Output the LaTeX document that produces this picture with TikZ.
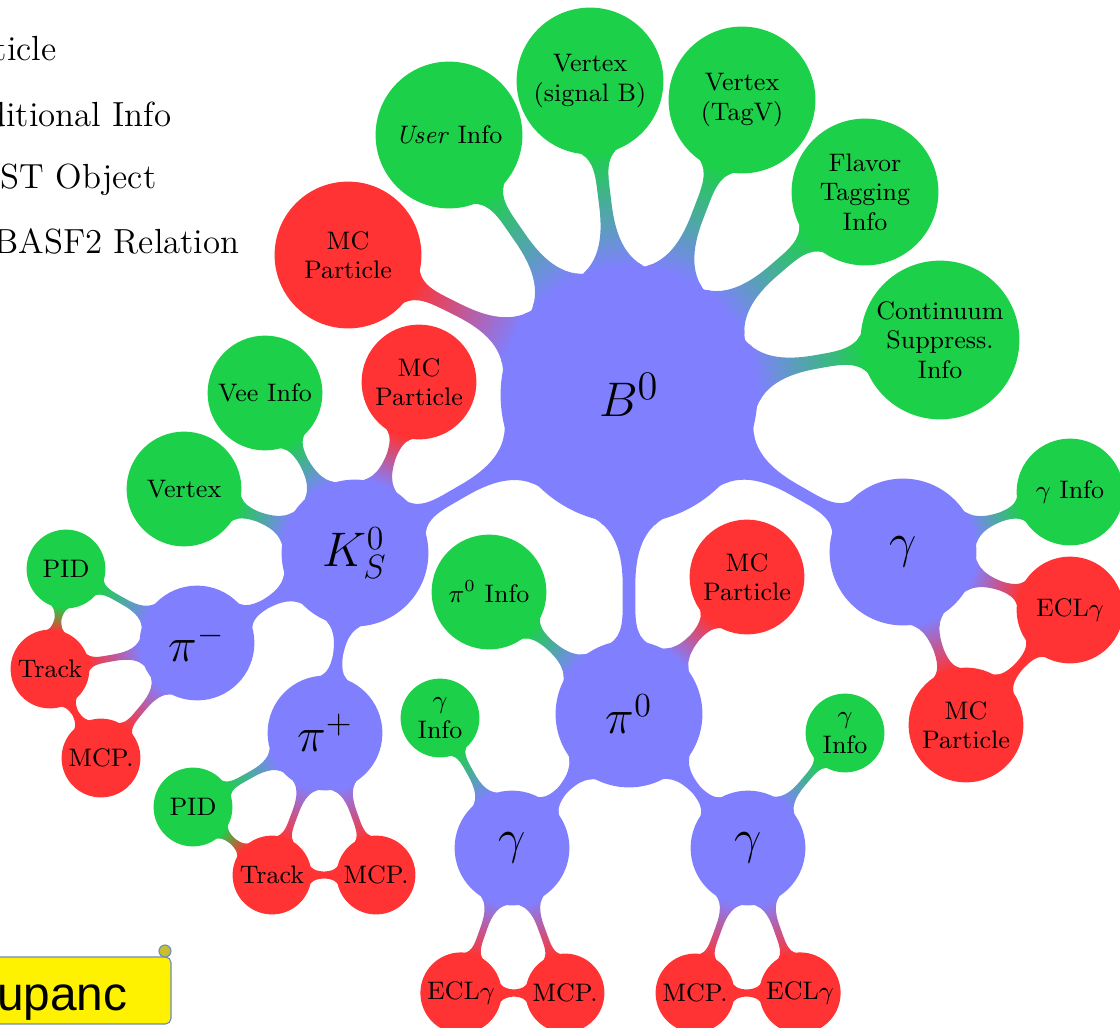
\documentclass[tikz,border=0pt]{standalone}
\usepackage{fontspec}
\newfontfamily\notefont{Liberation Sans}
\usetikzlibrary{mindmap, backgrounds}

\definecolor{partblue}{RGB}{128,128,255}
\definecolor{infogreen}{RGB}{28,208,74}
\definecolor{dstred}{RGB}{255,51,51}
\definecolor{noteedge}{RGB}{110,140,180}

\tikzset{
  legend/.style={anchor=base east, inner sep=0pt, font=\fontsize{12.4}{15}\selectfont},
  bubble/.style={circle, inner sep=1pt, outer sep=0pt, line width=1pt, align=center, font=\fontsize{9}{10.5}\selectfont},
  part/.style={bubble, fill=partblue, draw=partblue, font=\fontsize{17}{20}\selectfont},
  info/.style={bubble, fill=infogreen, draw=infogreen},
  dst/.style={bubble, fill=dstred, draw=dstred},
  root/.style={minimum size=31.75mm, font=\fontsize{19}{22}\selectfont},
  big/.style={minimum size=18mm},
  mid/.style={minimum size=14mm},
  small/.style={minimum size=9.5mm},
  toinfo/.style={circle connection bar switch color=from (partblue) to (infogreen), line width=#1},
  todst/.style={circle connection bar switch color=from (partblue) to (dstred), line width=#1},
  topart/.style={circle connection bar switch color=from (partblue) to (partblue), line width=#1},
  infodst/.style={circle connection bar switch color=from (infogreen) to (dstred), line width=#1},
  dstdst/.style={circle connection bar switch color=from (dstred) to (dstred), line width=#1},
}

\begin{document}
\begin{tikzpicture}[x=0.125mm, y=-0.125mm]
  \useasboundingbox (0,0) rectangle (1120,1027);

  % legend (cut off at the left)
  \node[legend] (lpart) at (57,60) {ticle};
  \node[legend] (linfo) at (172,126) {ditional Info};
  \node[legend] (ldst) at (157,188) {ST Object};
  \node[legend] (lrel) at (240,253) {BASF2 Relation};

  % B0 and its daughters
  \node[part, root] (b0) at (629,395) {$B^0$};
  \node[info, big] (user) at (449,135) {\textit{User} Info};
  \node[info, big] (vsig) at (590,81) {Vertex\\(signal B)};
  \node[info, big] (vtag) at (742,100) {Vertex\\(TagV)};
  \node[info, big] (flav) at (865,192) {Flavor\\Tagging\\Info};
  \node[info, big] (cont) at (940,340) {Continuum\\Suppress.\\Info};
  \node[dst, big] (mcb) at (348,255) {MC\\Particle};
  \node[part, big] (ks) at (355,553) {$K^0_S$};
  \node[part, big] (pizero) at (629,714) {$\pi^0$};
  \node[part, big] (gam) at (903,552) {$\gamma$};

  % K0S
  \node[info, mid] (vee) at (265,393) {Vee Info};
  \node[dst, mid] (mcks) at (419,382) {MC\\Particle};
  \node[info, mid] (vtx) at (184,489) {Vertex};
  \node[part, mid] (pim) at (197,643) {$\pi^-$};
  \node[part, mid] (pip) at (325,733) {$\pi^+$};
  \node[info, small] (pidm) at (66,569) {PID};
  \node[dst, small] (trkm) at (50,669) {Track};
  \node[dst, small] (mcpm) at (101,758) {MCP.};
  \node[info, small] (pidp) at (193,807) {PID};
  \node[dst, small] (trkp) at (272,875) {Track};
  \node[dst, small] (mcpp) at (376,875) {MCP.};

  % pi0
  \node[info, mid] (piinfo) at (489,592) {$\pi^0$ Info};
  \node[dst, mid] (mcpi) at (747,577) {MC\\Particle};
  \node[part, mid] (gl) at (512,848) {$\gamma$};
  \node[part, mid] (gr) at (748,848) {$\gamma$};
  \node[info, small] (gil) at (440,718) {$\gamma$\\Info};
  \node[dst, small] (ecll) at (461,993) {ECL$\gamma$};
  \node[dst, small] (mcpl) at (565,993) {MCP.};
  \node[info, small] (gir) at (845,733) {$\gamma$\\Info};
  \node[dst, small] (mcpr) at (695,993) {MCP.};
  \node[dst, small] (eclr) at (800,993) {ECL$\gamma$};

  % gamma from B0
  \node[info, mid, minimum size=13mm] (ginfo) at (1070,492) {$\gamma$ Info};
  \node[dst, mid, minimum size=13mm] (ecl) at (1070,610) {ECL$\gamma$};
  \node[dst, mid] (mcg) at (966,725) {MC\\Particle};

  % relations
  \begin{scope}[on background layer]
    \path (b0) to[toinfo=1.6mm] (user);
    \path (b0) to[toinfo=1.6mm] (vsig);
    \path (b0) to[toinfo=1.6mm] (vtag);
    \path (b0) to[toinfo=1.6mm] (flav);
    \path (b0) to[toinfo=1.6mm] (cont);
    \path (b0) to[todst=1.6mm] (mcb);
    \path (b0) to[topart=1.6mm] (ks);
    \path (b0) to[topart=1.6mm] (pizero);
    \path (b0) to[topart=1.6mm] (gam);

    \path (ks) to[toinfo=1.3mm] (vee);
    \path (ks) to[todst=1.3mm] (mcks);
    \path (ks) to[toinfo=1.3mm] (vtx);
    \path (ks) to[topart=1.3mm] (pim);
    \path (ks) to[topart=1.3mm] (pip);
    \path (pim) to[toinfo=1mm] (pidm);
    \path (pim) to[todst=1mm] (trkm);
    \path (pim) to[todst=1mm] (mcpm);
    \path (pidm) to[infodst=1mm] (trkm);
    \path (trkm) to[dstdst=1mm] (mcpm);
    \path (pip) to[toinfo=1mm] (pidp);
    \path (pip) to[todst=1mm] (trkp);
    \path (pip) to[todst=1mm] (mcpp);
    \path (pidp) to[infodst=1mm] (trkp);
    \path (trkp) to[dstdst=1mm] (mcpp);

    \path (pizero) to[toinfo=1.3mm] (piinfo);
    \path (pizero) to[todst=1.3mm] (mcpi);
    \path (pizero) to[topart=1.3mm] (gl);
    \path (pizero) to[topart=1.3mm] (gr);
    \path (gl) to[toinfo=1mm] (gil);
    \path (gl) to[todst=1mm] (ecll);
    \path (gl) to[todst=1mm] (mcpl);
    \path (ecll) to[dstdst=1mm] (mcpl);
    \path (gr) to[toinfo=1mm] (gir);
    \path (gr) to[todst=1mm] (mcpr);
    \path (gr) to[todst=1mm] (eclr);
    \path (mcpr) to[dstdst=1mm] (eclr);

    \path (gam) to[toinfo=1.3mm] (ginfo);
    \path (gam) to[todst=1.3mm] (ecl);
    \path (gam) to[todst=1.3mm] (mcg);
    \path (ecl) to[dstdst=1.3mm] (mcg);
  \end{scope}

  % sticky note
  \draw[noteedge, fill=yellow, rounded corners=2pt] (-10,957) rectangle (171,1024);
  \draw[noteedge, fill=yellow!75!black] (165,951) circle (6);
  \node[anchor=base east, inner sep=0pt, font=\notefont\fontsize{17}{20}\selectfont] (note) at (128,1010) {upanc};
\end{tikzpicture}
\end{document}
